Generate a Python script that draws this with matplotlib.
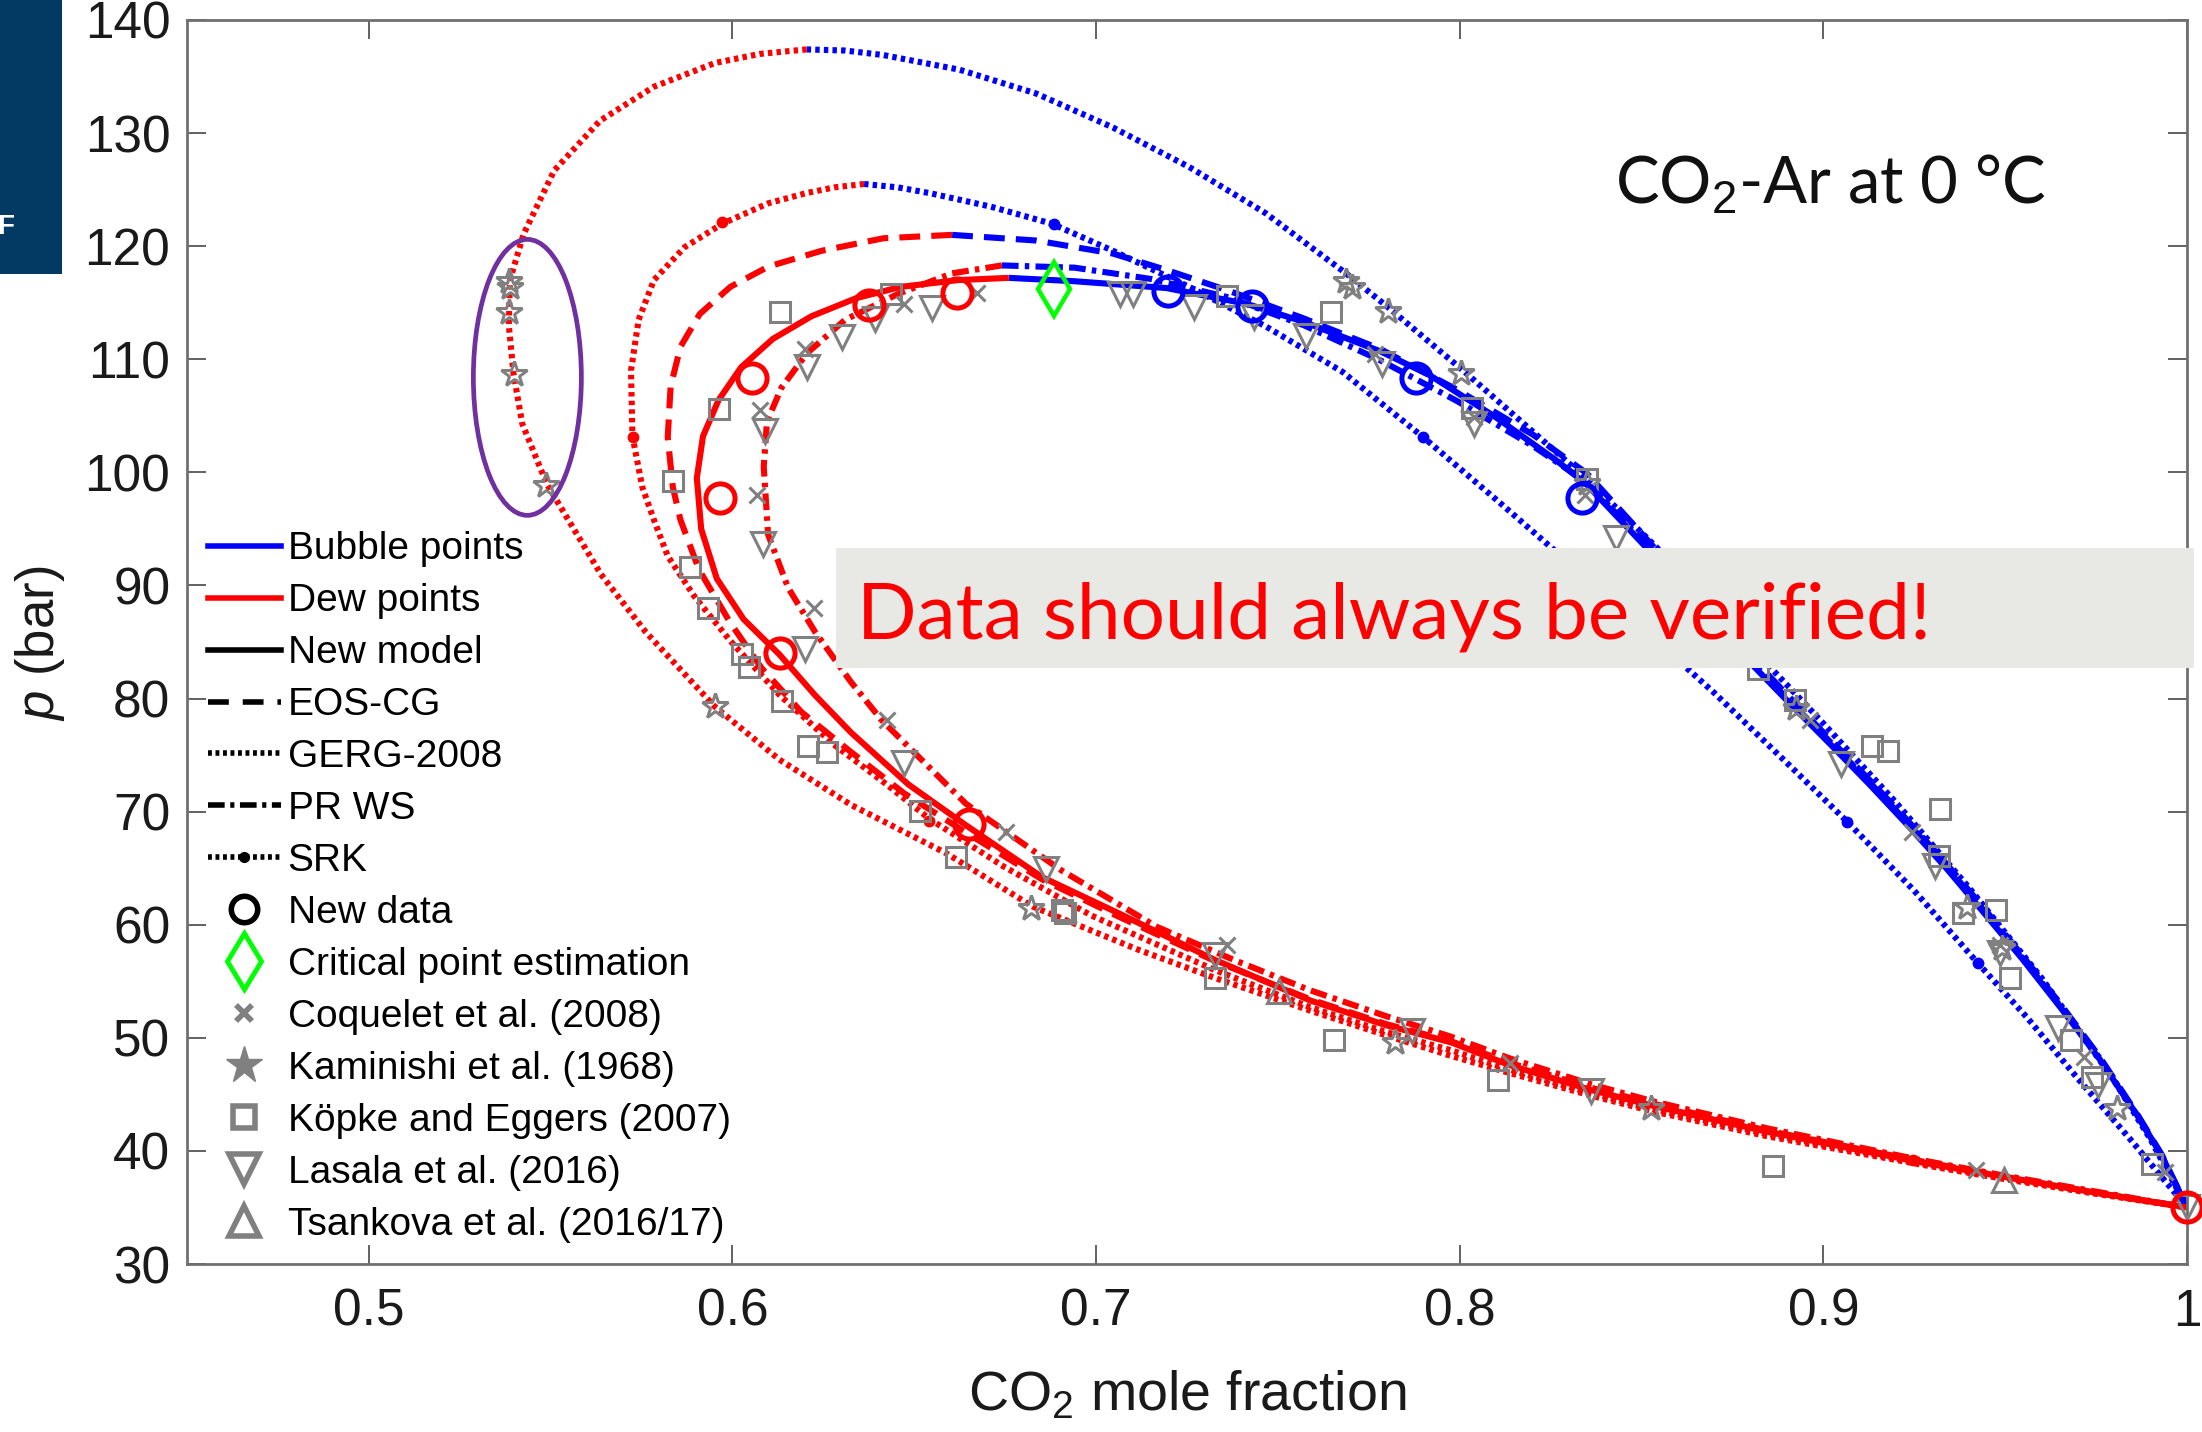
import matplotlib
matplotlib.use("Agg")
import matplotlib.pyplot as plt
from matplotlib.lines import Line2D
from matplotlib.patches import Ellipse, Rectangle

plt.rcParams['font.family'] = ['Liberation Sans', 'DejaVu Sans']
plt.rcParams['mathtext.fontset'] = 'custom'
plt.rcParams['mathtext.rm'] = 'Liberation Sans'
plt.rcParams['mathtext.it'] = 'Liberation Sans:italic'
plt.rcParams['lines.scale_dashes'] = False

# ---------------- model curves (x = CO2 mole fraction, p in bar) ----------------
new_dew = [(0.676, 117.2), (0.662, 117.0), (0.6462, 116.4), (0.634, 115.4), (0.6217, 113.8),
           (0.6111, 111.8), (0.6024, 109.3), (0.5962, 106.4), (0.5919, 103.2), (0.5902, 99.5),
           (0.5914, 95.0), (0.5957, 90.6), (0.6031, 87.0), (0.6129, 83.9), (0.6227, 80.3),
           (0.6326, 77.0), (0.6484, 72.4), (0.6642, 68.8), (0.6852, 64.2), (0.7063, 61.0),
           (0.7326, 56.9), (0.7589, 53.3), (0.7799, 51.1), (0.7976, 49.6), (0.8136, 47.6),
           (0.836, 45.4), (0.853, 44.0), (0.8845, 41.7), (0.9267, 39.0), (0.95, 37.7),
           (0.975, 36.3), (1.0, 35.0)]
new_bub = [(0.676, 117.2), (0.6941, 116.9), (0.7193, 116.3), (0.7414, 114.9), (0.7572, 113.3),
           (0.7782, 110.7), (0.7917, 108.6), (0.8098, 104.9), (0.8268, 101.0), (0.835, 98.9),
           (0.85, 93.8), (0.865, 88.5), (0.881, 82.8), (0.8916, 79.3), (0.9021, 75.9),
           (0.9127, 72.4), (0.9232, 68.8), (0.9338, 65.0), (0.9443, 61.0), (0.9549, 56.9),
           (0.9654, 52.6), (0.976, 48.1), (0.9866, 43.0), (0.993, 39.6), (1.0, 35.0)]

eoscg_dew = [(0.6604, 121.0), (0.6415, 120.7), (0.6246, 119.6), (0.6099, 118.2), (0.5994, 116.4),
             (0.591, 114.0), (0.5857, 111.1), (0.583, 107.6), (0.5822, 103.1), (0.5836, 98.7),
             (0.5857, 95.8), (0.5908, 91.4), (0.5994, 86.7), (0.608, 82.7), (0.619, 78.8),
             (0.6325, 75.3), (0.6473, 71.6), (0.665, 68.0), (0.6852, 64.0), (0.7063, 60.7),
             (0.7326, 56.8), (0.7589, 53.4), (0.7799, 51.2), (0.7976, 49.7), (0.8136, 47.8),
             (0.836, 45.6), (0.853, 44.2), (0.8845, 41.8), (0.9267, 39.1), (0.95, 37.7),
             (0.975, 36.3), (1.0, 35.0)]
eoscg_bub = [(0.6604, 121.0), (0.6835, 120.5), (0.7046, 119.35), (0.7193, 117.9), (0.7361, 116.1),
             (0.7572, 113.6), (0.7782, 110.9), (0.7993, 107.3), (0.8203, 103.3), (0.835, 99.9),
             (0.85, 94.6), (0.865, 89.2), (0.881, 83.4), (0.8916, 79.8), (0.9021, 76.3),
             (0.9127, 72.8), (0.9232, 69.2), (0.9338, 65.4), (0.9443, 61.4), (0.9549, 57.2),
             (0.9654, 52.9), (0.976, 48.3), (0.9866, 43.1), (0.993, 39.7), (1.0, 35.0)]

gerg_dew = [(0.6204, 137.4), (0.6075, 137.0), (0.5952, 136.2), (0.5784, 134.1), (0.5636, 131.1),
            (0.551, 126.7), (0.5426, 121.1), (0.5388, 117.0), (0.5385, 113.0), (0.5398, 108.7),
            (0.5422, 104.3), (0.5489, 99.0), (0.5638, 91.0), (0.5761, 85.9), (0.5951, 79.3),
            (0.6129, 74.6), (0.6326, 70.6), (0.6589, 66.3), (0.6826, 61.6), (0.7115, 57.8),
            (0.7326, 55.3), (0.7589, 52.4), (0.7799, 50.2), (0.7976, 48.4), (0.8136, 46.9),
            (0.836, 44.9), (0.853, 43.5), (0.8845, 41.3), (0.9267, 38.8), (0.95, 37.5),
            (0.975, 36.2), (1.0, 35.0)]
gerg_bub = [(0.6204, 137.4), (0.631, 137.3), (0.6415, 136.9), (0.6625, 135.6), (0.6835, 133.5),
            (0.7046, 130.5), (0.7256, 127.0), (0.7467, 122.9), (0.7687, 117.6), (0.7803, 114.6),
            (0.8013, 108.9), (0.835, 99.4), (0.8455, 96.1), (0.86, 91.5), (0.88, 84.6), (0.9, 77.8),
            (0.92, 70.8), (0.94, 63.3), (0.96, 55.3), (0.98, 46.2), (0.99, 41.0), (1.0, 35.0)]

prws_dew = [(0.6741, 118.3), (0.6604, 117.6), (0.6457, 115.8), (0.631, 113.5), (0.6204, 110.5),
            (0.6135, 107.5), (0.6095, 104.5), (0.6086, 100.5), (0.6098, 94.5), (0.6153, 89.8),
            (0.6227, 85.9), (0.6325, 81.5), (0.641, 78.1), (0.6642, 70.7), (0.6905, 64.8),
            (0.7168, 59.8), (0.7378, 56.9), (0.7589, 54.2), (0.7799, 51.9), (0.7976, 50.1),
            (0.8136, 48.2), (0.836, 45.9), (0.853, 44.4), (0.8845, 42.0), (0.9267, 39.2),
            (0.95, 37.8), (0.975, 36.4), (1.0, 35.0)]
prws_bub = [(0.6741, 118.3), (0.6941, 118.1), (0.7151, 117.1), (0.7361, 115.5), (0.7572, 113.0),
            (0.7782, 109.9), (0.7993, 106.3), (0.8203, 102.3), (0.835, 99.1), (0.85, 94.0),
            (0.865, 88.7), (0.881, 83.0), (0.8916, 79.5), (0.9021, 76.1), (0.9127, 72.6),
            (0.9232, 69.0), (0.9338, 65.2), (0.9443, 61.2), (0.9549, 57.0), (0.9654, 52.7),
            (0.976, 48.2), (0.9866, 43.0), (0.993, 39.6), (1.0, 35.0)]

srk_dew = [(0.6362, 125.5), (0.628, 125.2), (0.6204, 124.7), (0.6099, 123.8), (0.5973, 122.0),
           (0.5868, 119.9), (0.5784, 117.0), (0.5742, 113.5), (0.5721, 109.0), (0.5725, 103.2),
           (0.5752, 98.7), (0.5784, 95.8), (0.5822, 92.6), (0.5896, 89.0), (0.5994, 85.1),
           (0.613, 80.3), (0.6276, 76.0), (0.6424, 72.4), (0.654, 69.4), (0.6743, 65.2),
           (0.6988, 60.8), (0.7326, 56.0), (0.7589, 52.7), (0.7799, 50.5), (0.7976, 48.9),
           (0.8136, 47.2), (0.836, 45.1), (0.853, 43.7), (0.8845, 41.5), (0.9267, 38.9),
           (0.95, 37.6), (0.975, 36.3), (1.0, 35.0)]
srk_bub = [(0.6362, 125.5), (0.6455, 125.2), (0.6541, 124.7), (0.671, 123.5), (0.6877, 122.0),
           (0.7046, 119.6), (0.7256, 116.4), (0.7467, 112.9), (0.7677, 108.9), (0.79, 103.1),
           (0.81, 97.6), (0.83, 92.0), (0.85, 86.3), (0.87, 80.5), (0.89, 74.3), (0.9066, 69.1),
           (0.925, 63.0), (0.9425, 56.6), (0.956, 51.8), (0.9697, 46.5), (0.985, 40.8), (1.0, 35.0)]
srk_dew_dots = [(0.597, 122.1), (0.5726, 103.1), (0.654, 69.2), (0.9247, 39.2)]
srk_bub_dots = [(0.6884, 122.0), (0.79, 103.1), (0.9066, 69.1), (0.9425, 56.6)]

# ---------------- measured data ----------------
newdata_dew = [(0.5965, 97.7), (0.6054, 108.3), (0.613, 84.0), (0.6375, 114.8),
               (0.6618, 115.9), (0.665, 68.9), (1.0, 35.0)]
newdata_bub = [(0.7197, 116.0), (0.7429, 114.7), (0.788, 108.3), (0.8336, 97.7)]
critical = [(0.6884, 116.2)]

coquelet = [(0.942, 38.3), (0.8139, 47.8), (0.7359, 58.2), (0.6753, 68.2), (0.6425, 78.1),
            (0.6225, 88.0), (0.6068, 98.0), (0.6076, 105.5), (0.6199, 110.9), (0.6471, 114.9),
            (0.6672, 115.9), (0.9939, 38.1), (0.9718, 48.3), (0.9486, 58.2), (0.9243, 68.2),
            (0.8963, 78.1), (0.87, 88.0), (0.8345, 98.0), (0.804, 104.9), (0.7768, 110.5)]
kaminishi = [(0.5386, 116.9), (0.5388, 116.4), (0.5386, 114.2), (0.5398, 108.7), (0.5486, 98.9),
             (0.5951, 79.3), (0.6822, 61.5), (0.7822, 49.6), (0.8525, 43.8),
             (0.7687, 116.9), (0.7705, 116.4), (0.7803, 114.3), (0.8004, 108.8), (0.835, 99.1),
             (0.8926, 79.2), (0.9396, 61.6), (0.9491, 57.9), (0.9808, 43.8)]
kopke = [(0.6131, 114.2), (0.6436, 115.8), (0.5963, 105.6), (0.5836, 99.2), (0.5884, 91.6),
         (0.5933, 88.0), (0.6027, 83.9), (0.6046, 82.8), (0.6135, 79.8), (0.6208, 75.8),
         (0.6259, 75.3), (0.6515, 70.1), (0.6615, 66.0), (0.6905, 61.3), (0.6915, 61.0),
         (0.7326, 55.3), (0.7653, 49.8), (0.8104, 46.3), (0.8862, 38.7),
         (0.7361, 115.6), (0.7645, 114.2), (0.8034, 105.7), (0.835, 99.4), (0.8821, 82.6),
         (0.8921, 79.9), (0.9135, 75.8), (0.9178, 75.4), (0.9322, 70.2), (0.9317, 66.1),
         (0.9385, 61.0), (0.9475, 61.3), (0.9512, 55.3), (0.9681, 49.8), (0.974, 46.5),
         (0.9903, 38.8)]
lasala = [(0.6089, 103.7), (0.6204, 109.3), (0.6301, 112.0), (0.6392, 113.6), (0.655, 114.5),
          (0.6085, 93.7), (0.6199, 84.4), (0.6471, 74.3), (0.6863, 64.9), (0.7327, 57.3),
          (0.7868, 50.6), (0.8361, 45.3),
          (0.7067, 115.8), (0.7102, 115.8), (0.7269, 114.6), (0.7435, 113.7), (0.7576, 112.1),
          (0.7786, 109.6), (0.804, 104.3), (0.843, 94.2), (0.9048, 74.2), (0.9306, 65.2),
          (0.9486, 57.5), (0.9644, 50.9), (0.9755, 45.8), (1.0, 35.0)]
tsankova = [(0.7502, 54.1), (0.9496, 37.4)]

xticks = [0.5, 0.6, 0.7, 0.8, 0.9, 1.0]
xticklabels = ['0.5', '0.6', '0.7', '0.8', '0.9', '1']
yticks = [30, 40, 50, 60, 70, 80, 90, 100, 110, 120, 130, 140]

legend_labels = ['Bubble points', 'Dew points', 'New model', 'EOS-CG', 'GERG-2008', 'PR WS', 'SRK',
                 'New data', 'Critical point estimation', 'Coquelet et al. (2008)',
                 'Kaminishi et al. (1968)', 'Köpke and Eggers (2007)', 'Lasala et al. (2016)',
                 'Tsankova et al. (2016/17)']

# ---------------- styles ----------------
RED = '#FF0000'
BLUE = '#0000FF'
GRAY = '#808080'
LW = 4.4
DOT = (0, (3.2, 3.0))
DASH = (0, (15.0, 8.0))
DASHDOT = (0, (12.0, 4.5, 3.2, 4.5))

W, H = 2202, 1432
fig = plt.figure(figsize=(W / 100, H / 100), dpi=100)
ax = fig.add_axes([187 / W, 1 - 1264 / H, 2000 / W, 1244 / H])


def xs(pts):
    return [p[0] for p in pts]


def ps(pts):
    return [p[1] for p in pts]


curves = [
    (gerg_dew, gerg_bub, DOT),
    (srk_dew, srk_bub, DOT),
    (eoscg_dew, eoscg_bub, DASH),
    (prws_dew, prws_bub, DASHDOT),
    (new_dew, new_bub, '-'),
]
for dew, bub, ls in curves:
    ax.plot(xs(bub), ps(bub), color=BLUE, lw=LW, ls=ls, zorder=2, solid_capstyle='butt',
            dash_capstyle='butt', solid_joinstyle='round')
    ax.plot(xs(dew), ps(dew), color=RED, lw=LW, ls=ls, zorder=2, solid_capstyle='butt',
            dash_capstyle='butt', solid_joinstyle='round')

ax.plot(xs(srk_dew_dots), ps(srk_dew_dots), ls='none', marker='o', ms=7.5, color=RED, zorder=2)
ax.plot(xs(srk_bub_dots), ps(srk_bub_dots), ls='none', marker='o', ms=7.5, color=BLUE, zorder=2)

mk = dict(ls='none', mfc='none', mec=GRAY, zorder=3, clip_on=False)
ax.plot(xs(coquelet), ps(coquelet), marker='x', ms=11, mew=2.2, **mk)
ax.plot(xs(kaminishi), ps(kaminishi), marker='*', ms=19, mew=2.2, **mk)
ax.plot(xs(kopke), ps(kopke), marker='s', ms=14.5, mew=2.2, **mk)
ax.plot(xs(lasala), ps(lasala), marker='v', ms=17.5, mew=2.2, **mk)
ax.plot(xs(tsankova), ps(tsankova), marker='^', ms=17.5, mew=2.2, **mk)

ax.plot(xs(newdata_bub), ps(newdata_bub), ls='none', marker='o', ms=21, mfc='none', mec=BLUE,
        mew=3.6, zorder=4, clip_on=False)
ax.plot(xs(newdata_dew), ps(newdata_dew), ls='none', marker='o', ms=21, mfc='none', mec=RED,
        mew=3.6, zorder=4, clip_on=False)
ax.plot(xs(critical), ps(critical), ls='none', marker='d', ms=28, mfc='none', mec='#00FF00',
        mew=3.2, zorder=4)

ax.add_patch(Ellipse((0.5436, 108.4), 0.0297, 24.4, fill=False, ec='#7030A0', lw=3.4, zorder=3))

ax.set_xlim(0.45, 1.0)
ax.set_ylim(30, 140)
ax.set_xticks(xticks)
ax.set_xticklabels(xticklabels)
ax.set_yticks(yticks)
ax.tick_params(direction='in', length=14, width=1.3, top=True, right=True,
               labelsize=37, labelcolor='#1a1a1a', color='#555555')
ax.tick_params(axis='x', pad=17)
ax.tick_params(axis='y', pad=12)
for s in ax.spines.values():
    s.set_color('#707070')
    s.set_linewidth(2.0)

handles = [
    Line2D([], [], color=BLUE, lw=4),
    Line2D([], [], color=RED, lw=4),
    Line2D([], [], color='k', lw=4),
    Line2D([], [], color='k', lw=4, ls=(0, (15, 10))),
    Line2D([], [], color='k', lw=4, ls=(0, (2.8, 2.6))),
    Line2D([], [], color='k', lw=4, ls=(0, (12, 4, 3, 4))),
    Line2D([], [], color='k', lw=4, ls=(0, (2.8, 2.6)), marker='o', ms=7),
    Line2D([], [], ls='none', marker='o', ms=19, mfc='none', mec='k', mew=4),
    Line2D([], [], ls='none', marker='d', ms=29, mfc='none', mec='#00FF00', mew=3.5),
    Line2D([], [], ls='none', marker='x', ms=11, mec=GRAY, mew=4),
    Line2D([], [], ls='none', marker='*', ms=28, mfc=GRAY, mec=GRAY, mew=1),
    Line2D([], [], ls='none', marker='s', ms=16, mfc='none', mec=GRAY, mew=4),
    Line2D([], [], ls='none', marker='v', ms=22, mfc='none', mec=GRAY, mew=4),
    Line2D([], [], ls='none', marker='^', ms=22, mfc='none', mec=GRAY, mew=4),
]
leg = ax.legend(handles, legend_labels, loc='upper left', bbox_to_anchor=(0.0105, 0.589),
                frameon=False, fontsize=28, handlelength=1.87, handletextpad=0.18,
                labelspacing=0.41, borderpad=0, borderaxespad=0, numpoints=1)
leg.set_zorder(5)

fig.text(1187 / W, 1 - 1410 / H, 'CO$_2$ mole fraction', fontsize=40, ha='center',
         va='baseline', color='#1a1a1a')
fig.text(40 / W, 1 - 643 / H, '$p$ (bar)', fontsize=38, ha='center', va='center',
         rotation=90, color='#1a1a1a')

fig.text(1615 / W, 1 - 204 / H, 'CO$_2$-Ar at 0 °C', fontsize=47, family=['Lato', 'DejaVu Sans'],
         ha='left', va='baseline', color='#111111')

# dark blue corner block
fig.patches.append(Rectangle((0, 1 - 274 / H), 62 / W, 274 / H, transform=fig.transFigure,
                             facecolor='#033A63', edgecolor='none', zorder=10))
fig.text(-3 / W, 1 - 234 / H, 'F', fontsize=20, fontweight='bold', color='white',
         ha='left', va='baseline', zorder=11)

# banner
fig.patches.append(Rectangle((836 / W, 1 - 668 / H), (2194 - 836) / W, 120 / H,
                             transform=fig.transFigure, facecolor='#E8E9E4',
                             edgecolor='none', zorder=10))
fig.text(857 / W, 1 - 639 / H, 'Data should always be verified!', fontsize=56.5,
         family=['Lato', 'DejaVu Sans'], color='#FF0000', ha='left', va='baseline', zorder=11)

fig.savefig('out.png', dpi=100)
